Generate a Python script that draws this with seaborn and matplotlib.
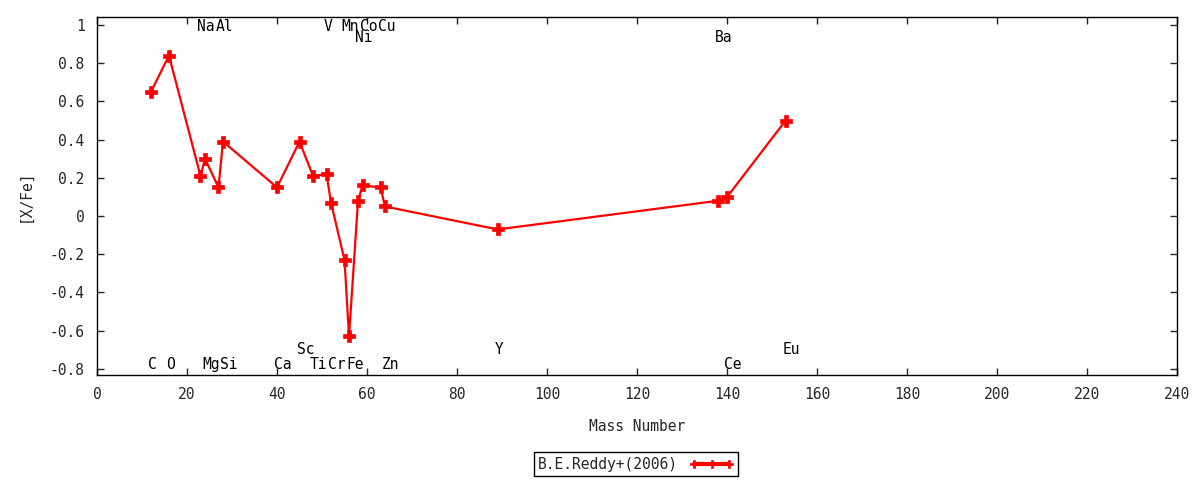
import matplotlib
matplotlib.use("Agg")
import matplotlib.pyplot as plt
import seaborn as sns
import pandas as pd

# abundance pattern, B.E.Reddy+(2006)
elements = ["C", "O", "Na", "Mg", "Al", "Si", "Ca", "Sc", "Ti", "V", "Cr",
            "Mn", "Fe", "Ni", "Co", "Cu", "Zn", "Y", "Ba", "Ce", "Eu"]
mass = [12, 16, 23, 24, 27, 28, 40, 45, 48, 51, 52,
        55, 56, 58, 59, 63, 64, 89, 138, 140, 153]
x_fe = [0.65, 0.84, 0.21, 0.30, 0.15, 0.39, 0.15, 0.39, 0.21, 0.22, 0.07,
        -0.23, -0.63, 0.08, 0.16, 0.15, 0.05, -0.07, 0.08, 0.10, 0.50]

# element name labels: row heights
label_y = {"Na": 0.99, "Al": 0.99, "V": 0.99, "Mn": 0.99, "Co": 0.99, "Cu": 0.99,
           "Ni": 0.935, "Ba": 0.935,
           "Sc": -0.70, "Y": -0.70, "Eu": -0.70}
bottom_row = -0.775

df = pd.DataFrame({"Element": elements, "Mass Number": mass, "[X/Fe]": x_fe})

sns.set_style("ticks")
plt.rcParams["font.family"] = ["DejaVu Sans Mono"]
plt.rcParams["font.size"] = 10.5

fig = plt.figure(figsize=(12, 4.8), dpi=100)
ax = fig.add_axes([0.0808, 0.2188, 0.9002, 0.7458])

sns.lineplot(data=df, x="Mass Number", y="[X/Fe]", sort=False, ax=ax,
             color="red", lw=1.6, marker="P", markersize=8,
             markeredgecolor="red", markeredgewidth=0.5,
             label="B.E.Reddy+(2006)")

for el, m in zip(elements, mass):
    y = label_y.get(el, bottom_row)
    ax.annotate(el, (m, y), xytext=(-3, 0), textcoords="offset pixels",
                ha="left", va="center", fontsize=10.5, color="black")

ax.set_xlim(0, 240)
ax.set_ylim(-0.832, 1.042)
ax.set_xticks(range(0, 241, 20))
ax.set_yticks([-0.8, -0.6, -0.4, -0.2, 0, 0.2, 0.4, 0.6, 0.8, 1])
ax.set_yticklabels(["-0.8", "-0.6", "-0.4", "-0.2", "0", "0.2", "0.4", "0.6", "0.8", "1"])
ax.tick_params(direction="in", length=5, width=1, top=True, right=True,
               labelsize=10.5, pad=9)
for s in ax.spines.values():
    s.set_linewidth(1)
    s.set_color("black")

ax.set_xlabel("Mass Number", labelpad=12)
ax.set_ylabel("[X/Fe]", labelpad=12)

leg = ax.legend(loc="center", bbox_to_anchor=(0.53, 0.033),
                bbox_transform=fig.transFigure, markerfirst=False,
                numpoints=3, handlelength=3.0, fancybox=False, framealpha=1,
                edgecolor="black", borderpad=0.3, handletextpad=0.8)
leg.get_frame().set_linewidth(1)
for h in leg.legend_handles:
    h.set_linewidth(3)
    h.set_markersize(6)

fig.savefig("out.png", dpi=100)
